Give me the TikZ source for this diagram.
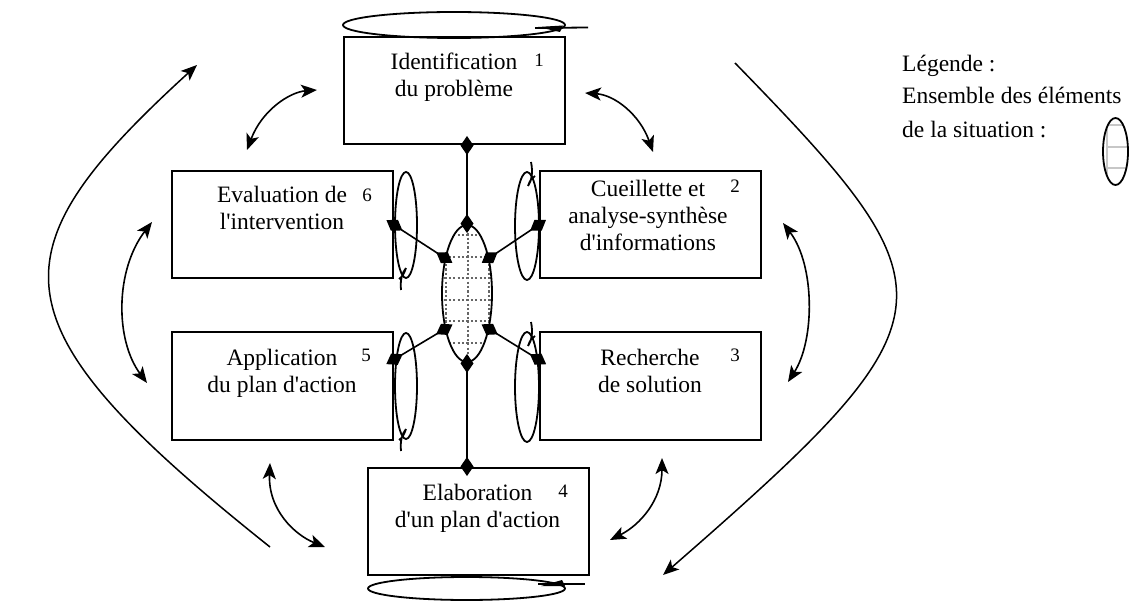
\documentclass[tikz,border=0pt]{standalone}
\usepackage{fontspec}
\setmainfont{Liberation Serif}
\usetikzlibrary{arrows.meta,shapes.geometric}
\begin{document}
\begin{tikzpicture}[x=1pt,y=-1pt,
  box/.style={draw, line width=2pt, minimum width=221pt, minimum height=107pt, inner sep=0pt},
  txt/.style={font=\fontsize{23.5}{27}\selectfont, align=center, inner sep=0pt, anchor=base},
  num/.style={font=\fontsize{19}{22}\selectfont, inner sep=0pt, anchor=base},
  legtxt/.style={font=\fontsize{23.5}{27}\selectfont, inner sep=0pt, anchor=base west},
  conn/.style={line width=1.6pt, {Diamond[length=19pt,width=13pt]}-{Diamond[length=19pt,width=13pt]}, shorten <=-9pt, shorten >=-9pt},
  dbl/.style={line width=1.6pt, {Stealth[length=16pt,width=13pt,inset=4pt]}-{Stealth[length=16pt,width=13pt,inset=4pt]}},
  big/.style={line width=1.5pt, -{Stealth[length=16pt,width=13pt,inset=4pt]}},
  loopst/.style={line width=1.8pt},
  gridst/.style={line width=2pt, dash pattern=on 2.2pt off 2.2pt, black!60}
]
\useasboundingbox (0,0) rectangle (1132,601);

% boxes
\node[box] (b1) at (454,90.5) {};
\node[box] (b6) at (282.5,225) {};
\node[box] (b2) at (650,225) {};
\node[box] (b5) at (282.5,386) {};
\node[box] (b3) at (650,386) {};
\node[box] (b4) at (478,521.5) {};

% texts (anchor base = last line)
\node[txt] (t1) at (454,97) {Identification\\du problème};
\node[num] (n1) at (539,67) {1};
\node[txt] (t6) at (282,230) {Evaluation de\\l\textquotesingle intervention};
\node[num] (n6) at (367,202) {6};
\node[txt] (t2) at (648,251) {Cueillette et\\analyse-synthèse\\d\textquotesingle informations};
\node[num] (n2) at (735,193) {2};
\node[txt] (t5) at (282,392) {Application\\du plan d\textquotesingle action};
\node[num] (n5) at (366,362) {5};
\node[txt] (t3) at (650,392) {Recherche\\de solution};
\node[num] (n3) at (735,362) {3};
\node[txt] (t4) at (477.5,527) {Elaboration\\d\textquotesingle un plan d\textquotesingle action};
\node[num] (n4) at (563,497) {4};

% central ellipse with grid
\begin{scope}
\clip (467,293.5) ellipse [x radius=25, y radius=68.5];
\foreach \gx in {446,467.6,489.2} \draw[gridst] (\gx,220) -- (\gx,365);
\foreach \gy in {235,256.6,278.2,299.8,321.4,343} \draw[gridst] (440,\gy) -- (495,\gy);
\end{scope}
\node[draw, ellipse, line width=1.8pt, minimum width=50pt, minimum height=137pt, inner sep=0pt] (ell) at (467,293.5) {};

% connectors
\draw[conn] (b1.south -| ell.north) -- (ell.north);
\draw[conn] (ell.south) -- (b4.north -| ell.south);
\draw[conn] (b6.east) -- (ell.122);
\draw[conn] (b2.west) -- (ell.58);
\draw[conn] ([yshift=-28pt]b5.north east) -- (ell.238);
\draw[conn] ([yshift=-28pt]b3.north west) -- (ell.302);

% loops beside boxes
\draw[loopst] (406,225) ellipse [x radius=11, y radius=53];
\draw[loopst] (401,290) .. controls (400,280) and (402,273) .. (406,268) .. controls (404,274) and (402,277) .. (399,279);
\draw[loopst] (406,386) ellipse [x radius=11, y radius=53];
\draw[loopst] (401,451) .. controls (400,441) and (402,434) .. (406,429) .. controls (404,435) and (402,438) .. (399,440);
\draw[loopst] (527,226) ellipse [x radius=12, y radius=54];
\draw[loopst] (531,162) .. controls (533,172) and (532,180) .. (528,186) .. controls (530,180) and (532,178) .. (535,176);
\draw[loopst] (527,387) ellipse [x radius=12, y radius=55];
\draw[loopst] (531,322) .. controls (533,332) and (532,340) .. (528,346) .. controls (530,340) and (532,338) .. (535,336);

% top and bottom loops
\draw[loopst] (454,25) ellipse [x radius=111, y radius=13];
\draw[loopst] (535,28) -- (588,27.5);
\fill (538,27) -- (563,25.5) -- (560,32) -- cycle;
\draw[loopst] (466.5,588.5) ellipse [x radius=98.5, y radius=11.5];
\draw[loopst] (538,584) -- (585,584);
\fill (541,586) -- (562,580) -- (565,586) -- cycle;

% double arrows
\coordinate (a1) at (247,150); \coordinate (a2) at (317,90);
\draw[dbl] (a1) .. controls (262,110) and (290,92) .. (a2);
\coordinate (b1a) at (585,93); \coordinate (b1b) at (653,152);
\draw[dbl] (b1a) .. controls (615,95) and (640,115) .. (b1b);
\coordinate (c1) at (152,222); \coordinate (c2) at (147,383);
\draw[dbl] (c1) .. controls (115,270) and (115,340) .. (c2);
\coordinate (d1) at (783,223); \coordinate (d2) at (788,382);
\draw[dbl] (d1) .. controls (815,265) and (815,340) .. (d2);
\coordinate (e1) at (270,463); \coordinate (e2) at (325,547);
\draw[dbl] (e1) .. controls (268,510) and (295,535) .. (e2);
\coordinate (f1) at (662,458); \coordinate (f2) at (610,540);
\draw[dbl] (f1) .. controls (662,500) and (640,525) .. (f2);

% big arrows
\coordinate (g1) at (270,547); \coordinate (g2) at (197,65);
\draw[big] (g1) .. controls (-10,324) and (-10,254) .. (g2);
\coordinate (h1) at (735,63); \coordinate (h2) at (663,575);
\draw[big] (h1) .. controls (960,294) and (960,316) .. (h2);

% legend
\node[legtxt] (l1) at (902,72) {Légende :};
\node[legtxt] (l2) at (902,104) {Ensemble des éléments};
\node[legtxt] (l3) at (902,138) {de la situation :};
\begin{scope}
\clip (1115.5,151.5) ellipse [x radius=12.5, y radius=33.5];
\draw[line width=2pt, black!22] (1107,110) -- (1107,190);
\foreach \ly in {125,147,168} \draw[line width=2pt, black!22] (1107,\ly) -- (1130,\ly);
\end{scope}
\node[draw, ellipse, line width=1.8pt, minimum width=25pt, minimum height=67pt, inner sep=0pt] (leg) at (1115.5,151.5) {};
\end{tikzpicture}
\end{document}
